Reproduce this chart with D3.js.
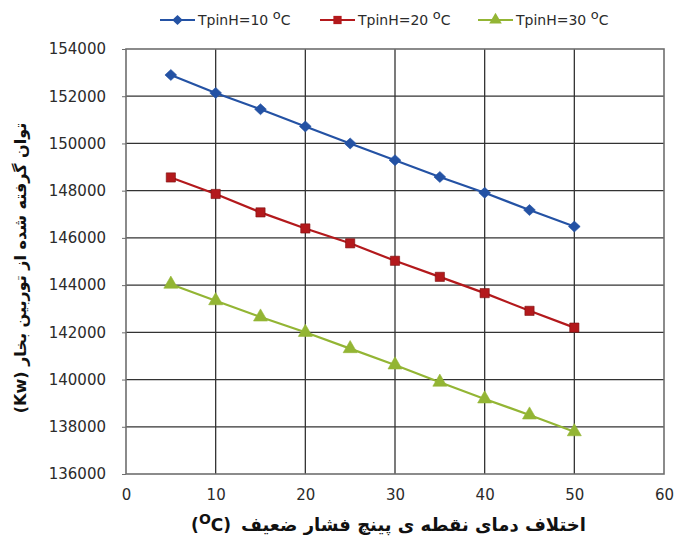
<!DOCTYPE html>
<html><head><meta charset="utf-8">
<script src="https://cdn.jsdelivr.net/npm/d3@7"></script>
<style>body{margin:0;background:#fff}svg{display:block}</style>
</head><body>
<svg id="c" width="676" height="544"></svg>
<script>
const xValues = [5,10,15,20,25,30,35,40,45,50];
const series10 = [152900,152140,151450,150720,150000,149290,148580,147910,147180,146480];
const series20 = [148560,147860,147080,146400,145770,145030,144350,143660,142910,142200];
const series30 = [144040,143340,142650,142000,141310,140620,139890,139180,138500,137790];
const seriesNames = ["TpinH=10 ","TpinH=20 ","TpinH=30 "];
const xTicks = [0,10,20,30,40,50,60];
const yTicks = [136000,138000,140000,142000,144000,146000,148000,150000,152000,154000];
const xTitle = "اختلاف دمای نقطه ی پینچ فشار ضعیف";
const yTitle = "توان گرفته شده از توربین بخار (Kw)";

const svg = d3.select("#c");
const L=126,R=664,T=49,B=474;
const x = d3.scaleLinear().domain([0,60]).range([L,R]);
const y = d3.scaleLinear().domain([136000,154000]).range([B,T]);
const font = "DejaVu Sans, Verdana, sans-serif";
const txt = "#2b2b2b";

// grid
svg.append("g").selectAll("line").data(xTicks.slice(1,-1)).join("line")
  .attr("x1",d=>x(d)).attr("x2",d=>x(d)).attr("y1",T).attr("y2",B)
  .attr("stroke","#333").attr("stroke-width",1.3);
svg.append("g").selectAll("line").data(yTicks.slice(1,-1)).join("line")
  .attr("x1",L).attr("x2",R).attr("y1",d=>y(d)).attr("y2",d=>y(d))
  .attr("stroke","#333").attr("stroke-width",1.3);
svg.append("rect").attr("x",L).attr("y",T).attr("width",R-L).attr("height",B-T)
  .attr("fill","none").attr("stroke","#6e6e6e").attr("stroke-width",1.6);

// axes
const ya = svg.append("g").attr("transform",`translate(${L},0)`)
  .call(d3.axisLeft(y).tickValues(yTicks).tickSize(4).tickPadding(16).tickFormat(d3.format("d")));
ya.select(".domain").remove();
ya.selectAll("line").attr("stroke","#6e6e6e");
ya.selectAll("text").attr("font-family",font).attr("font-size",15).attr("fill",txt);

const xa = svg.append("g").attr("transform",`translate(0,${B})`)
  .call(d3.axisBottom(x).tickValues(xTicks).tickSize(0).tickPadding(15));
xa.select(".domain").remove();
xa.selectAll("text").attr("font-family",font).attr("font-size",15).attr("fill",txt);

// series
const colors = ["#2452a4","#b3191c","#93b534"];
const data = [series10,series20,series30];
const line = d3.line().x((d,i)=>x(xValues[i])).y(d=>y(d));
const diamond = {draw(ctx, size){const w=Math.sqrt(size)*0.62,h=Math.sqrt(size)*0.58;
  ctx.moveTo(0,-h);ctx.lineTo(w,0);ctx.lineTo(0,h);ctx.lineTo(-w,0);ctx.closePath();}};
const symbols = [diamond, d3.symbolSquare, d3.symbolTriangle];
const sizes = [90, 85, 85];
data.forEach((s,k)=>{
  svg.append("path").datum(s).attr("d",line).attr("fill","none")
    .attr("stroke",colors[k]).attr("stroke-width",2.2);
  svg.append("g").selectAll("path").data(s).join("path")
    .attr("transform",(d,i)=>`translate(${x(xValues[i])},${y(d)})`)
    .attr("d",d3.symbol().type(symbols[k]).size(sizes[k]))
    .attr("fill",colors[k]).attr("stroke", k===1?"#7a1010":colors[k]).attr("stroke-width",0.6);
});

// legend
const lx = [160,320,478];
seriesNames.forEach((n,k)=>{
  const g = svg.append("g").attr("transform",`translate(${lx[k]},20)`);
  g.append("line").attr("x1",0).attr("x2",35).attr("y1",0).attr("y2",0)
    .attr("stroke",colors[k]).attr("stroke-width",2.2);
  g.append("path").attr("transform","translate(17.5,0)")
    .attr("d",d3.symbol().type(symbols[k]).size(sizes[k]*0.8)).attr("fill",colors[k]);
  const t = g.append("text").attr("x",38).attr("y",5).attr("font-family",font)
    .attr("font-size",14).attr("fill",txt);
  t.append("tspan").text(n);
  t.append("tspan").attr("dy",-6).attr("font-size",13).text("o");
  t.append("tspan").attr("dy",6).text("C");
});

// x title
const xt = svg.append("text").attr("x",586).attr("y",531).attr("text-anchor","end")
  .attr("font-family",font).attr("font-size",18).attr("font-weight","bold").attr("fill","#111")
  .attr("direction","ltr").text(xTitle);
const xtw = xt.node().getComputedTextLength();
const xu = svg.append("text").attr("x",586 - xtw - 10).attr("y",531).attr("text-anchor","end")
  .attr("font-family",font).attr("font-size",17).attr("font-weight","bold").attr("fill","#111");
xu.append("tspan").text("(");
xu.append("tspan").attr("dy",-7).attr("font-size",14).text("O");
xu.append("tspan").attr("dy",7).text("C)");

// y title
svg.append("text").attr("transform","translate(26,268) rotate(-90)").attr("text-anchor","middle")
  .attr("font-family",font).attr("font-size",16).attr("font-weight","bold").attr("fill","#111")
  .attr("direction","rtl").text(yTitle);
</script>
</body></html>
